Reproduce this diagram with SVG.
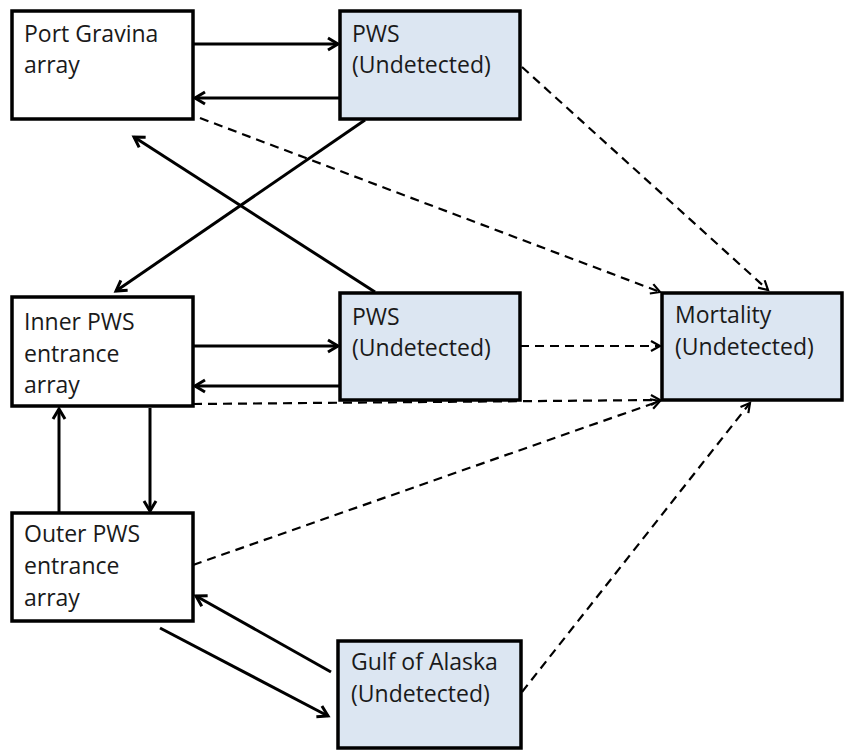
<svg xmlns="http://www.w3.org/2000/svg" width="849" height="756" viewBox="0 0 849 756">
<defs>
<style>
.box{stroke:#000;stroke-width:3.5}
.w{fill:#fff}
.b{fill:#dce6f2}
.t{font-family:"Open Sans","Noto Sans","Liberation Sans",sans-serif;font-size:23px;fill:#1a1a1a}
.s{stroke:#000;stroke-width:3;fill:none;marker-end:url(#ah)}
.d{stroke:#000;stroke-width:2.2;fill:none;stroke-dasharray:9 6;marker-end:url(#ahd)}
</style>
<marker id="ah" markerUnits="userSpaceOnUse" markerWidth="16" markerHeight="16" refX="13" refY="8" orient="auto">
<path d="M3,2 L13,8 L3,14" fill="none" stroke="#000" stroke-width="3"/>
</marker>
<marker id="ahd" markerUnits="userSpaceOnUse" markerWidth="16" markerHeight="16" refX="13" refY="8" orient="auto">
<path d="M4,3 L13,8 L4,13" fill="none" stroke="#000" stroke-width="2.2"/>
</marker>
</defs>
<rect width="849" height="756" fill="#fff"/>
<g id="connectors">
<line class="s" x1="193" y1="44" x2="338" y2="44"/>
<line class="s" x1="340" y1="98" x2="195" y2="98"/>
<line class="s" x1="193" y1="346" x2="338" y2="346"/>
<line class="s" x1="340" y1="386" x2="195" y2="386"/>
<line class="s" x1="365" y1="120" x2="116" y2="291"/>
<line class="s" x1="375" y1="292" x2="134" y2="137"/>
<line class="s" x1="59" y1="513" x2="59" y2="409"/>
<line class="s" x1="150" y1="408" x2="150" y2="511"/>
<line class="s" x1="160" y1="628" x2="328" y2="716"/>
<line class="s" x1="331" y1="672" x2="196" y2="596"/>
<line class="d" x1="522" y1="67" x2="768" y2="290"/>
<line class="d" x1="200" y1="118" x2="660" y2="292"/>
<line class="d" x1="520" y1="346" x2="660" y2="346"/>
<line class="d" x1="193" y1="404" x2="660" y2="400"/>
<line class="d" x1="193" y1="565" x2="660" y2="401"/>
<line class="d" x1="522" y1="692" x2="750" y2="403"/>
</g>
<g id="port-gravina">
<rect class="box w" x="12" y="11" width="181" height="108"/>
<text class="t" x="24" y="42">Port Gravina</text>
<text class="t" x="24" y="73">array</text>
</g>
<g id="pws-top">
<rect class="box b" x="340" y="11" width="180" height="108"/>
<text class="t" x="352" y="42">PWS</text>
<text class="t" x="352" y="73">(Undetected)</text>
</g>
<g id="inner-pws">
<rect class="box w" x="12" y="297" width="181" height="109"/>
<text class="t" x="24" y="330">Inner PWS</text>
<text class="t" x="24" y="362">entrance</text>
<text class="t" x="24" y="393">array</text>
</g>
<g id="pws-mid">
<rect class="box b" x="340" y="293" width="180" height="107"/>
<text class="t" x="352" y="325">PWS</text>
<text class="t" x="352" y="356">(Undetected)</text>
</g>
<g id="mortality">
<rect class="box b" x="662" y="293" width="180" height="107"/>
<text class="t" x="675" y="323">Mortality</text>
<text class="t" x="675" y="355">(Undetected)</text>
</g>
<g id="outer-pws">
<rect class="box w" x="12" y="513" width="181" height="108"/>
<text class="t" x="24" y="542">Outer PWS</text>
<text class="t" x="24" y="574">entrance</text>
<text class="t" x="24" y="606">array</text>
</g>
<g id="gulf-of-alaska">
<rect class="box b" x="338" y="641" width="183" height="107"/>
<text class="t" x="351" y="670">Gulf of Alaska</text>
<text class="t" x="351" y="702">(Undetected)</text>
</g>
</svg>
